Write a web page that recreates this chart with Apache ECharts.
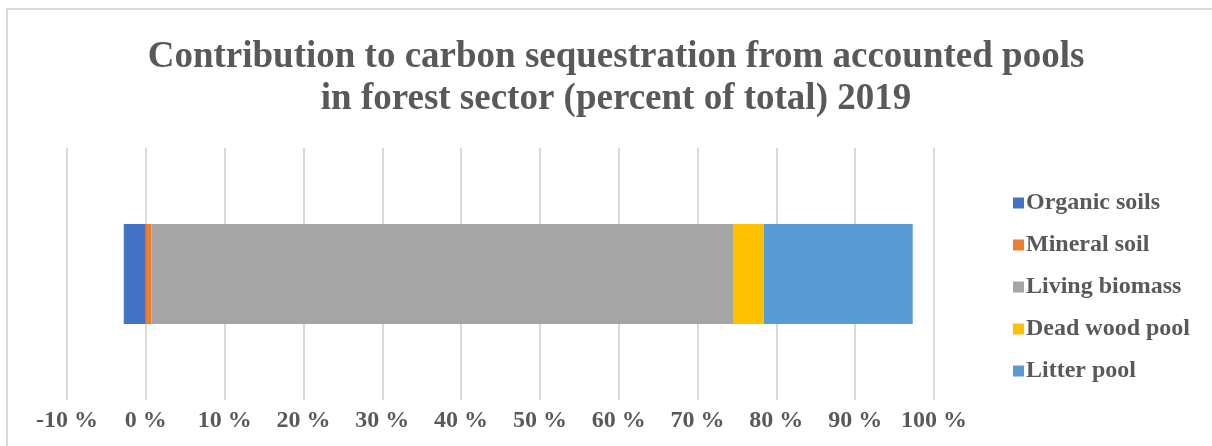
<!DOCTYPE html>
<html>
<head>
<meta charset="utf-8">
<script src="https://cdn.jsdelivr.net/npm/echarts@6/dist/echarts.min.js"></script>
<style>
  html, body { margin: 0; padding: 0; background: #fff; }
  #chart { width: 1212px; height: 446px; }
</style>
</head>
<body>
<div id="chart"></div>
<script>
const categories = ['2019'];
const seriesNames = ['Organic soils', 'Mineral soil', 'Living biomass', 'Dead wood pool', 'Litter pool'];
const organicSoils = [-2.8];
const mineralSoil = [0.7];
const livingBiomass = [73.8];
const deadWoodPool = [3.9];
const litterPool = [18.9];
const tickMin = -10, tickMax = 100, tickStep = 10;

const colors = ['#4472C4', '#ED7D31', '#A5A5A5', '#FFC000', '#5B9BD5'];
const values = [organicSoils, mineralSoil, livingBiomass, deadWoodPool, litterPool];
const serif = '"Liberation Serif", "Times New Roman", serif';
const textColor = '#595959';

const chart = echarts.init(document.getElementById('chart'));
chart.setOption({
  animation: false,
  graphic: [{
    type: 'rect',
    shape: { x: 7, y: 9, width: 1400, height: 600 },
    style: { fill: 'none', stroke: '#d9d9d9', lineWidth: 2 },
    silent: true
  }],
  title: {
    text: 'Contribution to carbon sequestration from accounted pools\nin forest sector (percent of total) 2019',
    left: 611,
    textAlign: 'center',
    top: 31,
    textStyle: {
      fontFamily: serif, fontWeight: 'bold', fontSize: 37, lineHeight: 42, color: textColor
    }
  },
  legend: {
    orient: 'vertical',
    left: 1008,
    top: 186,
    itemWidth: 11,
    itemHeight: 11,
    itemGap: 18,
    icon: 'rect',
    textStyle: { fontFamily: serif, fontWeight: 'bold', fontSize: 24, color: textColor, padding: [0, 0, 0, -3] },
    data: seriesNames
  },
  grid: { left: 67, right: 278, top: 148, bottom: 46, containLabel: false },
  xAxis: {
    type: 'value',
    min: tickMin, max: tickMax, interval: tickStep,
    axisLine: { show: false },
    axisTick: { show: false },
    splitLine: { show: true, lineStyle: { color: '#d9d9d9', width: 2 } },
    axisLabel: {
      formatter: '{value} %',
      fontFamily: serif, fontWeight: 'bold', fontSize: 24, color: textColor, margin: 9
    }
  },
  yAxis: {
    type: 'category',
    data: categories,
    axisLine: { show: false },
    axisTick: { show: false },
    axisLabel: { show: false }
  },
  series: seriesNames.map((name, i) => ({
    name,
    type: 'bar',
    stack: 'total',
    barWidth: 100,
    itemStyle: { color: colors[i] },
    data: values[i]
  }))
});
</script>
</body>
</html>
